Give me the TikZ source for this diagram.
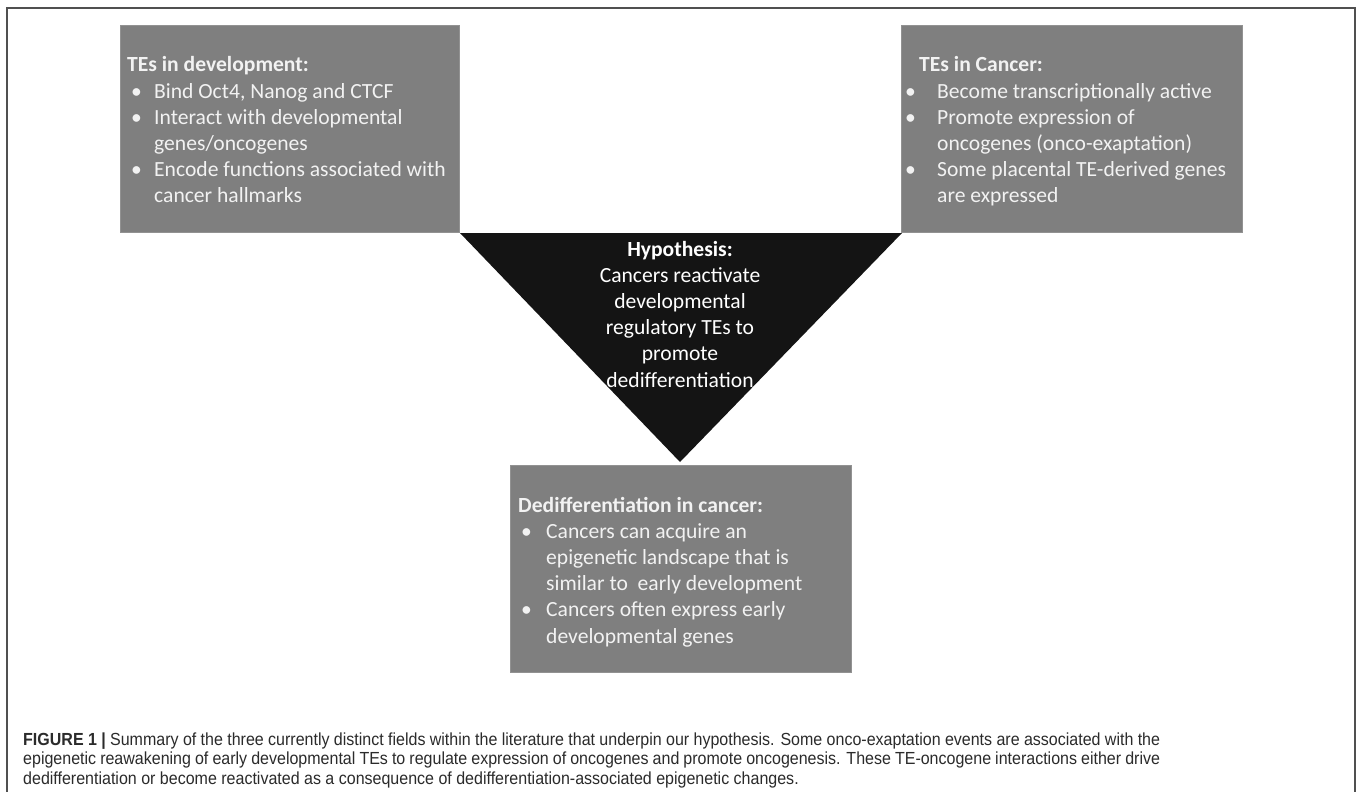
\documentclass[tikz,border=0pt]{standalone}
\usepackage{fontspec}
\setmainfont{Carlito}
\newfontfamily\capfont[FakeStretch=0.915]{Liberation Sans}
\definecolor{boxgray}{HTML}{7F7F7F}
\definecolor{trifill}{HTML}{141414}
\definecolor{boxtxt}{HTML}{F2F2F2}
\definecolor{captxt}{HTML}{2B2B2B}
\definecolor{framecol}{HTML}{505050}
\newcommand\blt[2]{\hspace*{#1}\makebox[#2][l]{\textbullet}}
\tikzset{
  gbox/.style={fill=boxgray, draw=boxgray!85!white, line width=0.6pt, inner sep=0pt},
  btxt/.style={inner sep=0pt, text=boxtxt, font=\fontsize{21.6}{26.2}\selectfont},
  captext/.style={inner sep=0pt, text=captxt, font=\capfont\fontsize{17.5}{19.5}\selectfont}
}
\begin{document}
\begin{tikzpicture}[x=1pt,y=-1pt]
\useasboundingbox (0,0) rectangle (1358,792);
\fill[white] (0,0) rectangle (1358,792);
\draw[framecol, line width=1.6pt] (7,792) -- (7,8) -- (1355,8) -- (1355,792);
% boxes
\draw[gbox] (120,25) rectangle (459,232);
\draw[gbox] (901,25) rectangle (1242,232);
\draw[gbox] (510,465) rectangle (851,672);
% triangle
\coordinate (tl) at (460,233);
\coordinate (tr) at (902,233);
\coordinate (tb) at (680,462);
\fill[trifill] (tl) -- (tr) -- (tb) -- cycle;
% texts
\node[btxt, anchor=base west] (devtxt) at (127,72) {\begin{tabular}[t]{@{}l@{}}
\textbf{TEs in development:}\\
\blt{4pt}{23pt}Bind Oct4, Nanog and CTCF\\
\blt{4pt}{23pt}Interact with developmental\\
\hspace*{27pt}genes/oncogenes\\
\blt{4pt}{23pt}Encode functions associated with\\
\hspace*{27pt}cancer hallmarks
\end{tabular}};
\node[btxt, anchor=base west] (cantxt) at (919,72) {\begin{tabular}[t]{@{}l@{}}
\textbf{TEs in Cancer:}\\
\blt{-14pt}{32pt}Become transcriptionally active\\
\blt{-14pt}{32pt}Promote expression of\\
\hspace*{18pt}oncogenes (onco-exaptation)\\
\blt{-14pt}{32pt}Some placental TE-derived genes\\
\hspace*{18pt}are expressed
\end{tabular}};
\node[btxt, text=white, anchor=base] (hyptxt) at (680,256) {\begin{tabular}[t]{@{}c@{}}
\textbf{Hypothesis:}\\
Cancers reactivate\\
developmental\\
regulatory TEs to\\
promote\\
dedifferentiation
\end{tabular}};
\node[btxt, anchor=base west] (dedtxt) at (518,512) {\begin{tabular}[t]{@{}l@{}}
\textbf{Dedifferentiation in cancer:}\\
\blt{3pt}{25pt}Cancers can acquire an\\
\hspace*{28pt}epigenetic landscape that is\\
\hspace*{28pt}similar to\ \ early development\\
\blt{3pt}{25pt}Cancers often express early\\
\hspace*{28pt}developmental genes
\end{tabular}};
% caption
\node[captext, anchor=base west] (cap) at (23,745) {\begin{tabular}[t]{@{}l@{}}
\makebox[1137pt][s]{\textbf{FIGURE 1 |} Summary of the three currently distinct fields within the literature that underpin our hypothesis. Some onco-exaptation events are associated with the}\\
\makebox[1137pt][s]{epigenetic reawakening of early developmental TEs to regulate expression of oncogenes and promote oncogenesis. These TE-oncogene interactions either drive}\\
dedifferentiation or become reactivated as a consequence of dedifferentiation-associated epigenetic changes.
\end{tabular}};
\end{tikzpicture}
\end{document}
